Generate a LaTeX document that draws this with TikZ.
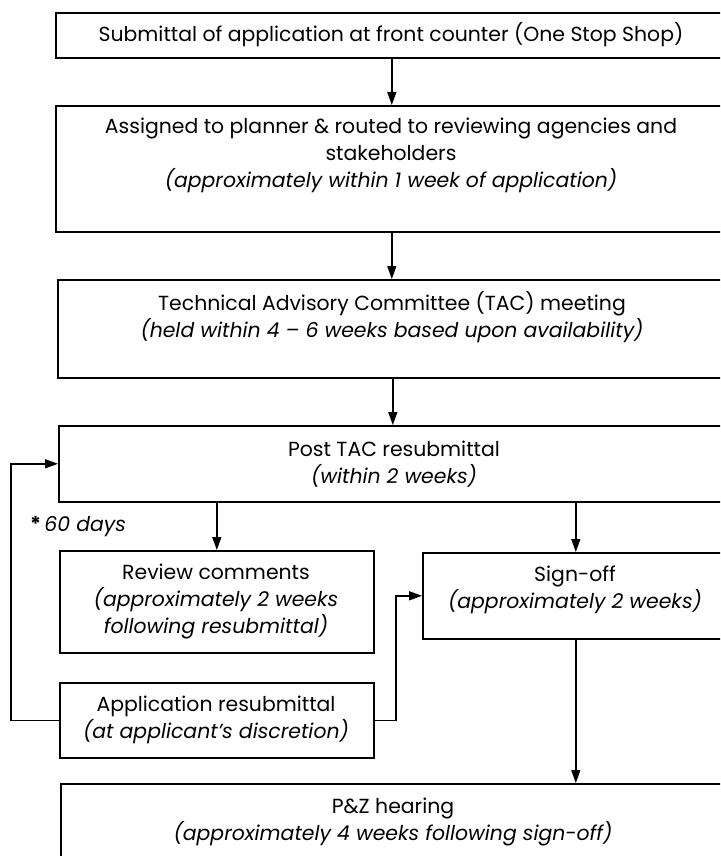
\documentclass[tikz,border=0pt]{standalone}
\usepackage{fontspec}
\setmainfont{Poppins}
\usetikzlibrary{arrows.meta}
\begin{document}
\begin{tikzpicture}[x=1pt,y=-1pt,
  box/.style={draw=black, line width=1.6pt, rectangle, inner sep=0pt, anchor=north west},
  txt/.style={align=center, inner sep=0pt, font=\fontsize{20.4}{27}\selectfont},
  arr/.style={line width=1.4pt, -{Triangle[length=13pt,width=9pt]}}]
\useasboundingbox (0,0) rectangle (720,856);
\clip (0,0) rectangle (720,856);
% boxes
\node[box, minimum width=672pt, minimum height=45pt] (b1) at (55,12) {};
\node[box, minimum width=672pt, minimum height=126pt] (b2) at (55,105) {};
\node[box, minimum width=670pt, minimum height=98pt] (b3) at (57,279) {};
\node[box, minimum width=670pt, minimum height=76pt] (b4) at (58,425) {};
\node[box, minimum width=314pt, minimum height=102pt] (rev) at (59,550) {};
\node[box, minimum width=314pt, minimum height=75pt] (app) at (59,682) {};
\node[box, minimum width=306pt, minimum height=86pt] (so) at (422,552) {};
\node[box, minimum width=667pt, minimum height=120pt] (pz) at (60,783) {};
% texts
\node[txt] (t1) at (391,35) {Submittal of application at front counter (One Stop Shop)};
\node[txt] (t2) at (391,155) {Assigned to planner \& routed to reviewing agencies and\\ stakeholders\\ \textit{(approximately within 1 week of application)}};
\node[txt] (t3) at (392,317) {Technical Advisory Committee (TAC) meeting\\ \textit{(held within 4 – 6 weeks based upon availability)}};
\node[txt] (t4) at (394,464) {Post TAC resubmittal\\ \textit{(within 2 weeks)}};
\node[txt] (trev) at (216,601) {Review comments\\ \textit{(approximately 2 weeks}\\ \textit{following resubmittal)}};
\node[txt] (tapp) at (216,720) {Application resubmittal\\ \textit{(at applicant’s discretion)}};
\node[txt] (tso) at (575,590) {Sign-off\\ \textit{(approximately 2 weeks)}};
\node[txt] (tpz) at (393,822) {P\&Z hearing\\ \textit{(approximately 4 weeks following sign-off)}};
\node[txt, anchor=west] (days) at (30,527) {\textbf{*}\,\textit{60 days}};
% connectors
\draw[arr] (b1.south) -- (b1.south |- b2.north);
\draw[arr] (b2.south) -- (b2.south |- b3.north);
\draw[arr] (b3.south) -- (b3.south |- b4.north);
\draw[arr] (rev.north |- b4.south) -- (rev.north);
\draw[arr] (so.north |- b4.south) -- (so.north);
\draw[arr] (so.south) -- (so.south |- pz.north);
\coordinate (lx) at (11,0);
\draw[arr] (app.west) -| (lx |- b4.west) -- (b4.west);
\coordinate (rx) at (396,0);
\draw[arr] (app.east) -| (rx |- so.west) -- (so.west);
\end{tikzpicture}
\end{document}
